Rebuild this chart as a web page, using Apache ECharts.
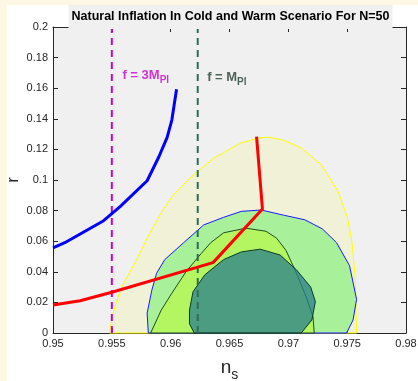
<!DOCTYPE html>
<html>
<head>
<meta charset="utf-8">
<script src="https://cdn.jsdelivr.net/npm/echarts@6/dist/echarts.min.js"></script>
<style>
html,body{margin:0;padding:0;background:#fdf8e4;}
#chart{position:absolute;left:7px;top:5px;width:411px;height:376px;background:#ffffff;}
</style>
</head>
<body>
<div id="chart"></div>
<script>
// ---- data (n_s, r) ----
const xTicks = [0.95, 0.955, 0.96, 0.965, 0.97, 0.975, 0.98];
const yTicks = [0, 0.02, 0.04, 0.06, 0.08, 0.1, 0.12, 0.14, 0.16, 0.18, 0.2];

const coldCurve = [ // blue
  [0.9500, 0.0557], [0.9510, 0.0590], [0.9543, 0.0734], [0.9557, 0.0826],
  [0.9580, 0.0995], [0.9590, 0.1152], [0.9597, 0.1279], [0.9601, 0.1392],
  [0.9605, 0.1593]
];
const warmCurve = [ // red
  [0.9500, 0.0183], [0.9523, 0.0211], [0.9550, 0.0266], [0.9636, 0.0460],
  [0.9678, 0.0810], [0.9673, 0.1283]
];
const fLine3 = [[0.955, 0], [0.955, 0.2]];
const fLine1 = [[0.9623, 0], [0.9623, 0.2]];

const contourYellow = [
  [0.9548, 0], [0.9551, 0.013], [0.9557, 0.028], [0.9571, 0.048], [0.9582, 0.065],
  [0.9593, 0.080], [0.9602, 0.090], [0.9616, 0.101], [0.9636, 0.114], [0.9659, 0.124],
  [0.9675, 0.1275], [0.9683, 0.128], [0.9696, 0.126], [0.9711, 0.121], [0.9728, 0.110],
  [0.9742, 0.093], [0.9750, 0.076], [0.9754, 0.060], [0.9757, 0.035], [0.9758, 0]
];
const contourBlue = [
  [0.9581, 0], [0.9580, 0.013], [0.9584, 0.028], [0.9588, 0.039], [0.9595, 0.048],
  [0.9611, 0.059], [0.9628, 0.0706], [0.9645, 0.0756], [0.9660, 0.0795], [0.9677, 0.0804],
  [0.9696, 0.077], [0.9714, 0.074], [0.9729, 0.068], [0.9741, 0.059], [0.9752, 0.044],
  [0.9758, 0.022], [0.9755, 0.0085], [0.97495, 0]
];
const contourGreen = [
  [0.9583, 0], [0.9592, 0.015], [0.9601, 0.026], [0.9613, 0.040], [0.9626, 0.052],
  [0.9634, 0.059], [0.9645, 0.0655], [0.9664, 0.0685], [0.9681, 0.0665], [0.9690, 0.062],
  [0.9698, 0.054], [0.9707, 0.039], [0.9715, 0.024], [0.9721, 0.0106], [0.9722, 0]
];
const contourTeal = [
  [0.9620, 0], [0.9616, 0.006], [0.9616, 0.015], [0.9619, 0.027], [0.9629, 0.038],
  [0.9645, 0.048], [0.9660, 0.053], [0.9676, 0.0548], [0.9693, 0.051], [0.9707, 0.0412],
  [0.9719, 0.030], [0.9723, 0.0205], [0.9720, 0.0085], [0.9711, 0]
];
const labelPos3 = [0.9559, 0.1686];
const labelPos1 = [0.9631, 0.1673];

// ---- chart ----
const FONT = 'Liberation Sans, Arial, Helvetica, sans-serif';
const chart = echarts.init(document.getElementById('chart'), null, {renderer: 'canvas'});

function polySeries(pts, fill, stroke, z) {
  return {
    type: 'custom', z: z, silent: true, data: pts,
    renderItem: function (params, api) {
      if (params.dataIndex !== 0) return null;
      const p = pts.map(function (d) { return api.coord(d); });
      return {type: 'polygon', shape: {points: p},
        style: {fill: fill, stroke: stroke, lineWidth: 1}};
    }
  };
}
function lineSeries(pts, color, width, dash, z) {
  return {type: 'line', data: pts, showSymbol: false, symbol: 'none', z: z, silent: true,
    lineStyle: {color: color, width: width, type: dash || 'solid'}};
}
function labelSeries(pos, text, color, z) {
  return {type: 'scatter', data: [pos], symbolSize: 0, z: z, silent: true,
    label: {show: true, position: 'right', distance: 0, formatter: text,
      rich: {
        a: {fontFamily: FONT, fontSize: 13, fontWeight: 'bold', color: color, lineHeight: 16},
        b: {fontFamily: FONT, fontSize: 10, fontWeight: 'bold', color: color, padding: [10, 0, 0, 0], lineHeight: 16}
      }}};
}

const axisCommon = {
  type: 'value',
  axisLine: {show: true, onZero: false, lineStyle: {color: '#262626', width: 1}},
  axisTick: {show: true, inside: true, length: 5, lineStyle: {color: '#262626'}},
  splitLine: {show: false}
};

const GRID = {left: 46, right: 12, top: 22, bottom: 48};

chart.setOption({
  animation: false,
  backgroundColor: '#ffffff',
  title: {
    text: 'Natural Inflation In Cold and Warm Scenario For N=50',
    left: (GRID.left + (411 - GRID.right)) / 2 - 2, textAlign: 'center', top: 0,
    backgroundColor: '#f0f0f0', padding: [5, 3, 6, 3],
    textStyle: {fontFamily: FONT, fontSize: 12.5, fontWeight: 'bold', color: '#000'}
  },
  grid: {left: GRID.left, right: GRID.right, top: GRID.top, bottom: GRID.bottom, show: true,
    outerBoundsMode: 'none', containLabel: false, backgroundColor: '#f0f0f0', borderWidth: 0},
  xAxis: [
    Object.assign({}, axisCommon, {
      min: xTicks[0], max: xTicks[xTicks.length - 1], interval: 0.005, position: 'bottom',
      axisLabel: {fontFamily: FONT, fontSize: 11, color: '#262626', margin: 5,
        formatter: function (v) { return String(+v.toFixed(3)); }},
      name: '{n|n}{s|s}', nameLocation: 'middle', nameGap: 24,
      nameTextStyle: {rich: {
        n: {fontFamily: FONT, fontSize: 19, color: '#262626', lineHeight: 22},
        s: {fontFamily: FONT, fontSize: 14, color: '#262626', padding: [14, 0, 0, 0], lineHeight: 22}
      }}
    }),
    Object.assign({}, axisCommon, {
      min: xTicks[0], max: xTicks[xTicks.length - 1], interval: 0.005, position: 'top',
      axisLabel: {show: false}
    })
  ],
  yAxis: [
    Object.assign({}, axisCommon, {
      min: yTicks[0], max: yTicks[yTicks.length - 1], interval: 0.02, position: 'left',
      axisLabel: {fontFamily: FONT, fontSize: 11, color: '#262626', margin: 5,
        formatter: function (v) { return String(+v.toFixed(2)); }},
      name: 'r', nameLocation: 'middle', nameGap: 31, nameRotate: 90, nameMoveOverlap: false,
      nameTextStyle: {fontFamily: FONT, fontSize: 17, color: '#262626'}
    }),
    Object.assign({}, axisCommon, {
      min: yTicks[0], max: yTicks[yTicks.length - 1], interval: 0.02, position: 'right',
      axisLabel: {show: false}
    })
  ],
  series: [
    polySeries(contourYellow, 'rgba(255,255,0,0.1)', '#ffff00', 1),
    polySeries(contourBlue, '#a9f09b', '#1a1aff', 2),
    polySeries(contourGreen, '#b4f562', '#1d4d1d', 3),
    polySeries(contourTeal, 'rgba(40,125,139,0.75)', '#0b3a24', 4),
    lineSeries(fLine3, '#cc00cc', 2, [7, 5], 5),
    lineSeries(fLine1, '#2f6b55', 2, [7, 5], 5),
    lineSeries(coldCurve, '#0000ff', 3, 'solid', 6),
    lineSeries(warmCurve, '#ff0000', 3, 'solid', 6),
    labelSeries(labelPos3, '{a|f = 3M}{b|Pl}', '#cc00cc', 7),
    labelSeries(labelPos1, '{a|f = M}{b|Pl}', '#233f30', 7)
  ]
});
</script>
</body>
</html>
